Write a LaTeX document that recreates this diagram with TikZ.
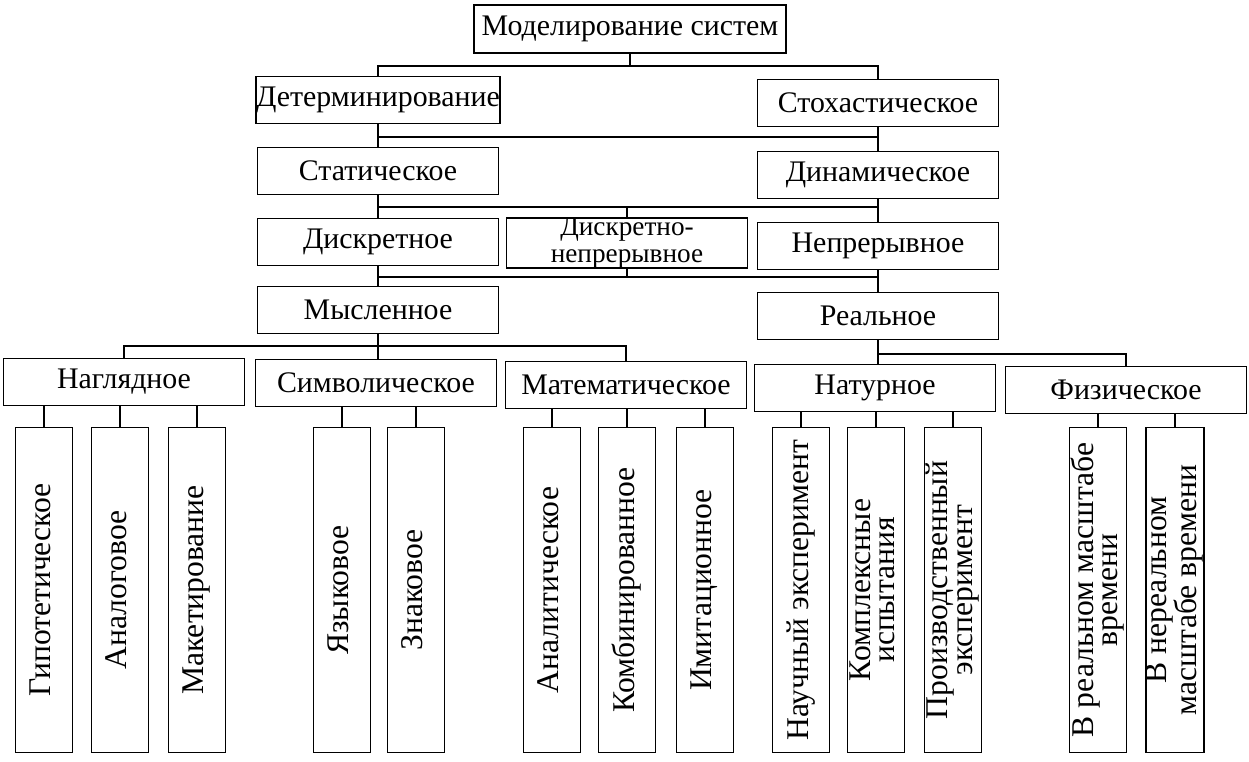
\documentclass[tikz,border=0pt]{standalone}
\usepackage{fontspec}
\setmainfont{Liberation Serif}
\usepackage{graphicx}
\newcommand{\vlab}[1]{\rotatebox{90}{\begin{tabular}{@{}c@{}}#1\end{tabular}}}

\begin{document}
\begin{tikzpicture}[x=0.2mm,y=-0.2mm]
\tikzset{
  box/.style={draw,line width=1.1pt,minimum width=48.2mm,minimum height=9.4mm,inner xsep=0pt,inner ysep=0pt,align=center,font=\fontsize{17}{11}\selectfont},
  leaf/.style={draw,line width=1.1pt,minimum width=11.4mm,minimum height=65mm,inner sep=0pt,font=\fontsize{18}{14}\selectfont},
  link/.style={line width=1.6pt}
}
\useasboundingbox (0,0) rectangle (1249,762);
\node[box,minimum width=62.4mm,minimum height=9.6mm] (n_model) at (630,29) {Моделирование систем};
\node[box] (n_determ) at (378,100) {Детерминирование};
\node[box] (n_stoch) at (878,103) {Стохастическое};
\node[box] (n_static) at (378,171) {Статическое};
\node[box] (n_dynamic) at (878,175) {Динамическое};
\node[box] (n_discrete) at (378,242) {Дискретное};
\node[box,font=\fontsize{15.5}{15.5}\selectfont] (n_mixed) at (627,243) {Дискретно-\\непрерывное};
\node[box] (n_contin) at (878,246) {Непрерывное};
\node[box] (n_mental) at (378,310) {Мысленное};
\node[box] (n_real) at (878,316) {Реальное};
\node[box] (n_visual) at (124,382) {Наглядное};
\node[box] (n_symbol) at (376,383) {Символическое};
\node[box] (n_math) at (626,385) {Математическое};
\node[box] (n_field) at (875,388) {Натурное};
\node[box] (n_phys) at (1126,390) {Физическое};
\node[leaf] (n_hypo) at (44,590) {\vlab{Гипотетическое}};
\node[leaf] (n_analog) at (120,590) {\vlab{Аналоговое}};
\node[leaf] (n_mockup) at (197,590) {\vlab{Макетирование}};
\node[leaf] (n_lang) at (342,590) {\vlab{Языковое}};
\node[leaf] (n_sign) at (416,590) {\vlab{Знаковое}};
\node[leaf] (n_analyt) at (552,590) {\vlab{Аналитическое}};
\node[leaf] (n_comb) at (627,590) {\vlab{Комбинированное}};
\node[leaf] (n_imit) at (705,590) {\vlab{Имитационное}};
\node[leaf] (n_sci) at (801,590) {\vlab{Научный эксперимент}};
\node[leaf] (n_test) at (876,590) {\vlab{Комплексные\\испытания}};
\node[leaf] (n_prod) at (953,590) {\vlab{Производственный\\эксперимент}};
\node[leaf] (n_rt) at (1098,590) {\vlab{В реальном масштабе\\времени}};
\node[leaf] (n_nrt) at (1175,590) {\vlab{В нереальном\\масштабе времени}};
\coordinate (j_top) at (630,66);
\coordinate (j_kind) at (630,137);
\coordinate (j_time) at (627,207);
\coordinate (j_form) at (627,277);
\coordinate (j_mental) at (378,346);
\coordinate (j_real) at (878,354);
\draw[link] (n_model.south) -- (j_top);
\draw[link] (n_determ.north) |- (j_top) -| (n_stoch.north);
\draw[link] (n_determ.south) -- (n_static.north);
\draw[link] (n_stoch.south) -- (n_dynamic.north);
\draw[link] (n_determ.south |- j_kind) -- (n_stoch.south |- j_kind);
\draw[link] (n_static.south) -- (n_discrete.north);
\draw[link] (n_dynamic.south) -- (n_contin.north);
\draw[link] (n_static.south |- j_time) -- (n_dynamic.south |- j_time);
\draw[link] (j_time) -- (n_mixed.north);
\draw[link] (n_discrete.south) -- (n_mental.north);
\draw[link] (n_contin.south) -- (n_real.north);
\draw[link] (n_discrete.south |- j_form) -- (n_contin.south |- j_form);
\draw[link] (n_mixed.south) -- (j_form);
\draw[link] (n_mental.south) -- (n_mental.south |- n_symbol.north);
\draw[link] (n_visual.north) |- (j_mental) -| (n_math.north);
\draw[link] (n_real.south) -- (n_real.south |- n_field.north);
\draw[link] (j_real) -| (n_phys.north);
\draw[link] (n_hypo.north) -- (n_hypo.north |- n_visual.south);
\draw[link] (n_analog.north) -- (n_analog.north |- n_visual.south);
\draw[link] (n_mockup.north) -- (n_mockup.north |- n_visual.south);
\draw[link] (n_lang.north) -- (n_lang.north |- n_symbol.south);
\draw[link] (n_sign.north) -- (n_sign.north |- n_symbol.south);
\draw[link] (n_analyt.north) -- (n_analyt.north |- n_math.south);
\draw[link] (n_comb.north) -- (n_comb.north |- n_math.south);
\draw[link] (n_imit.north) -- (n_imit.north |- n_math.south);
\draw[link] (n_sci.north) -- (n_sci.north |- n_field.south);
\draw[link] (n_test.north) -- (n_test.north |- n_field.south);
\draw[link] (n_prod.north) -- (n_prod.north |- n_field.south);
\draw[link] (n_rt.north) -- (n_rt.north |- n_phys.south);
\draw[link] (n_nrt.north) -- (n_nrt.north |- n_phys.south);
\end{tikzpicture}
\end{document}
